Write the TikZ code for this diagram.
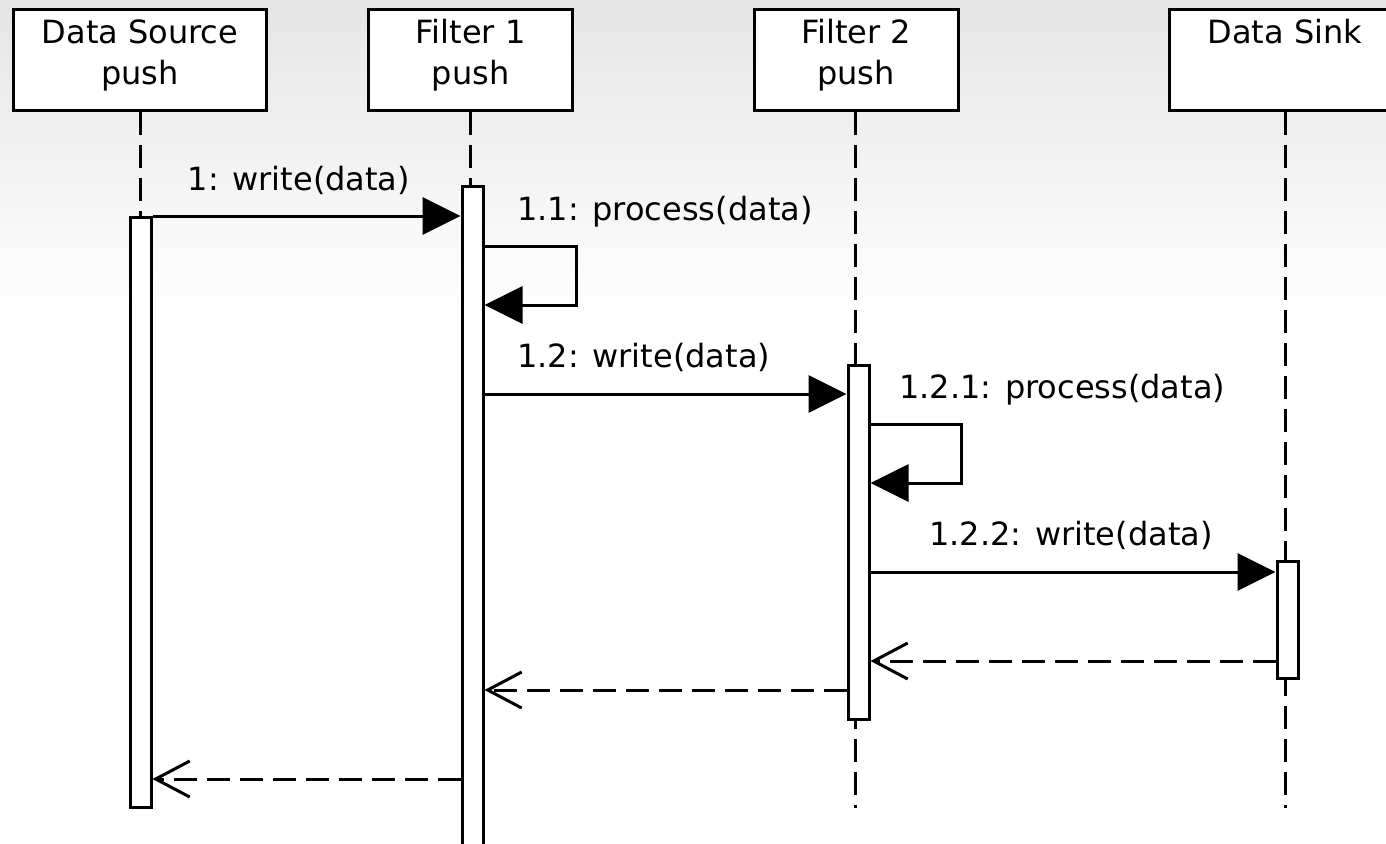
\documentclass[tikz,border=0pt]{standalone}
\usepackage{fontspec}
\setmainfont{DejaVu Sans}
\usetikzlibrary{arrows.meta}
\begin{document}
\begin{tikzpicture}[x=0.5pt,y=-0.5pt,
  txt/.style={font=\fontsize{16}{20.5}\selectfont,inner sep=0pt},
  head/.style={draw,fill=white,line width=1.5pt,minimum width=126.5pt,minimum height=50.5pt,inner sep=0pt},
  headtxt/.style={txt,align=center},
  bar/.style={draw,fill=white,line width=1.5pt,minimum width=10.5pt,inner sep=0pt},
  life/.style={line width=1.5pt,dash pattern=on 11.5pt off 5pt},
  call/.style={line width=1.5pt,-{Triangle[length=19pt,width=18.5pt]}},
  reply/.style={line width=1.5pt,dash pattern=on 11.5pt off 5pt,-{Straight Barb[length=17pt,width=18pt]}}]
\useasboundingbox (0,0) rectangle (1386,843);
\clip (0,0) rectangle (1386,843);
\fill[white] (0,0) rectangle (1386,843);
\shade[top color=black!10,bottom color=white] (0,0) rectangle (1386,320);
% heads
\node[head] (src) at (140,60) {};
\node[headtxt] (srct) at (140,55) {Data Source\\push};
\node[head,minimum width=102pt] (f1) at (470.5,60) {};
\node[headtxt] (f1t) at (470.5,55) {Filter 1\\push};
\node[head,minimum width=102pt] (f2) at (856,60) {};
\node[headtxt] (f2t) at (856,55) {Filter 2\\push};
\node[head,minimum width=116pt] (sink) at (1285,60) {};
\node[headtxt] (sinkt) at (1285,55) {Data Sink\\\phantom{push}};
% lifeline ends
\coordinate (srcend) at (140,217);
\coordinate (f1end) at (470,187);
\coordinate (f2end) at (855,808);
\coordinate (sinkend) at (1285,808);
\draw[life] (src.south -| srcend) -- (srcend);
\draw[life] (f1.south -| f1end) -- (f1end);
\draw[life] (f2.south -| f2end) -- (f2end);
\draw[life] (sink.south -| sinkend) -- (sinkend);
% activation bars
\node[bar,minimum height=295pt] (srcbar) at (140.5,512.5) {};
\node[bar,minimum height=337pt] (f1bar) at (472.5,523.5) {};
\node[bar,minimum height=177pt] (f2bar) at (858.5,542) {};
\node[bar,minimum height=58.5pt] (sinkbar) at (1287.5,619.5) {};
% message rows
\coordinate (m1) at (0,216);
\coordinate (s1a) at (576,246);
\coordinate (s1b) at (576,305);
\coordinate (m12) at (0,394);
\coordinate (s2a) at (961,424);
\coordinate (s2b) at (961,483);
\coordinate (m122) at (0,572);
\coordinate (r1) at (0,661);
\coordinate (r2) at (0,690);
\coordinate (r3) at (0,779);
% calls
\draw[call] (srcbar.east |- m1) -- (f1bar.west |- m1);
\node[txt,anchor=base] (l1) at (299,190) {1: write(data)};
\draw[call] (f1bar.east |- s1a) -- (s1a) -- (s1b) -- (f1bar.east |- s1b);
\node[txt,anchor=base west] (l11) at (517,220) {1.1: process(data)};
\draw[call] (f1bar.east |- m12) -- (f2bar.west |- m12);
\node[txt,anchor=base west] (l12) at (517,367) {1.2: write(data)};
\draw[call] (f2bar.east |- s2a) -- (s2a) -- (s2b) -- (f2bar.east |- s2b);
\node[txt,anchor=base west] (l121) at (899,398) {1.2.1: process(data)};
\draw[call] (f2bar.east |- m122) -- (sinkbar.west |- m122);
\node[txt,anchor=base west] (l122) at (929,545) {1.2.2: write(data)};
% replies
\draw[reply] (sinkbar.west |- r1) -- (f2bar.east |- r1);
\draw[reply] (f2bar.west |- r2) -- (f1bar.east |- r2);
\draw[reply] (f1bar.west |- r3) -- (srcbar.east |- r3);
\end{tikzpicture}
\end{document}
